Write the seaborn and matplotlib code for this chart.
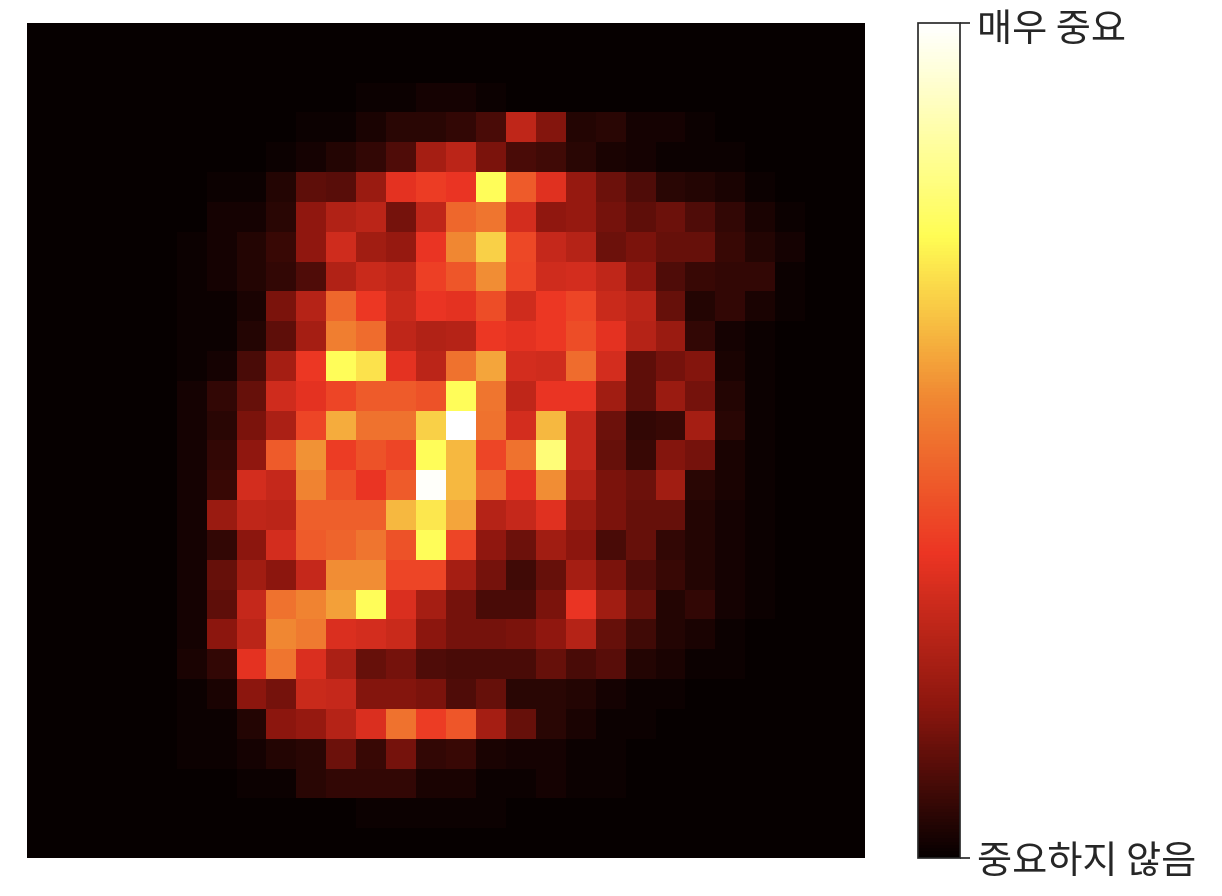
import numpy as np
import seaborn as sns
import matplotlib.pyplot as plt
from matplotlib.colors import LinearSegmentedColormap
from matplotlib.transforms import ScaledTranslation

sns.set_theme(style="white")
plt.rcParams['font.family'] = ['Noto Sans CJK KR', 'DejaVu Sans']

# importance per pixel (x100), cols 0-4 are all empty so only cols 5-27 are listed
blank = [0] * 23
row_02 = [0,0,0,0,0,0,1,1,2,2,1,0,0,0,0,0,0,0,0,0,0,0,0]
row_03 = [0,0,0,0,1,1,3,5,5,6,9,28,17,4,5,2,2,1,0,0,0,0,0]
row_04 = [0,0,0,1,2,4,6,10,23,27,16,9,8,5,3,2,1,1,1,0,0,0,0]
row_05 = [0,1,1,4,12,11,21,35,38,36,75,45,34,20,14,10,5,4,3,1,0,0,0]
row_06 = [0,2,2,5,19,25,27,15,28,48,51,32,19,20,15,12,14,10,6,3,1,0,0]
row_07 = [1,2,4,7,19,31,22,20,36,55,67,41,29,26,14,16,13,13,7,4,2,0,0]
row_08 = [1,2,4,6,10,25,30,28,39,44,56,40,31,32,28,19,10,7,6,6,1,0,0]
row_09 = [1,1,3,16,26,48,37,30,36,35,42,31,37,40,30,27,13,4,6,3,1,0,0]
row_10 = [1,1,4,12,23,53,49,28,25,26,37,35,37,42,35,26,21,6,2,1,0,0,0]
row_11 = [1,2,9,23,37,75,70,35,27,50,60,32,31,49,32,12,15,17,3,1,0,0,0]
row_12 = [2,6,13,31,35,40,45,45,43,75,51,28,36,36,22,12,21,15,4,1,0,0,0]
row_13 = [2,5,16,24,40,61,50,50,67,100,50,32,63,29,14,6,7,23,5,1,0,0,0]
row_14 = [2,6,19,45,57,38,43,40,75,63,40,50,80,29,13,7,17,15,3,1,0,0,0]
row_15 = [2,7,32,29,54,43,36,45,99,63,48,35,56,26,16,14,22,5,3,1,0,0,0]
row_16 = [2,21,28,27,46,46,46,63,71,60,26,29,34,21,16,13,13,4,2,1,0,0,0]
row_17 = [2,6,18,32,45,47,51,43,75,40,19,14,22,18,9,13,6,4,2,1,0,0,0]
row_18 = [2,13,22,18,29,56,56,40,40,23,15,8,13,23,16,10,7,4,2,1,0,0,0]
row_19 = [2,12,29,50,54,59,75,33,23,15,9,9,16,36,22,13,4,6,2,1,0,0,0]
row_20 = [2,18,27,55,52,33,32,30,18,15,15,16,19,26,13,8,4,3,1,0,0,0,0]
row_21 = [3,6,35,51,33,24,13,15,10,9,9,9,13,9,11,4,3,1,1,0,0,0,0]
row_22 = [1,3,18,15,30,29,17,17,16,10,13,5,5,4,2,1,1,0,0,0,0,0,0]
row_23 = [1,1,4,18,20,26,33,50,38,44,23,13,5,3,1,1,0,0,0,0,0,0,0]
row_24 = [1,1,2,4,5,14,7,15,6,7,3,2,2,1,1,0,0,0,0,0,0,0,0]
row_25 = [0,0,1,1,5,6,6,6,3,3,1,1,2,1,1,0,0,0,0,0,0,0,0]
row_26 = [0,0,0,0,0,0,1,1,1,1,1,0,0,0,0,0,0,0,0,0,0,0,0]

rows = [blank, blank, row_02, row_03, row_04, row_05, row_06, row_07, row_08,
        row_09, row_10, row_11, row_12, row_13, row_14, row_15, row_16, row_17,
        row_18, row_19, row_20, row_21, row_22, row_23, row_24, row_25, row_26, blank]
importance = np.hstack([np.zeros((28, 5)), np.array(rows)])

cbar_labels = ["중요하지 않음", "매우 중요"]

# "hot", but with the washed out screenshot colours of the original
hot_soft = LinearSegmentedColormap.from_list("hot_soft", [
    (0.0, "#060000"),
    (0.18, "#8c160e"),
    (0.365, "#ec3523"),
    (0.55, "#f08732"),
    (0.746, "#fffd54"),
    (1.0, "#ffffff"),
])

W, H = 1222, 896
fig = plt.figure(figsize=(W / 100, H / 100), dpi=100)
ax = fig.add_axes([27 / W, 1 - 858 / H, 838 / W, 835 / H])
cax = fig.add_axes([918 / W, 1 - 858 / H, 42 / W, 835 / H])

sns.heatmap(importance, cmap=hot_soft, vmin=0, vmax=100, ax=ax, cbar_ax=cax,
            xticklabels=False, yticklabels=False, rasterized=True)

cbar = ax.collections[0].colorbar
cbar.set_ticks([0, 100])
cbar.set_ticklabels(cbar_labels, fontsize=27.5, color="#262626")
cbar.ax.tick_params(length=7.5, width=1.2, color="#262626", pad=5, right=True)
cbar.outline.set_visible(True)
cbar.outline.set_edgecolor("#262626")
cbar.outline.set_linewidth(1.2)

# top label sits a little below its tick in the original
top_label = cbar.ax.get_yticklabels()[1]
top_label.set_transform(top_label.get_transform() + ScaledTranslation(0, -2 / 72, fig.dpi_scale_trans))

plt.savefig("out.png", dpi=100)
